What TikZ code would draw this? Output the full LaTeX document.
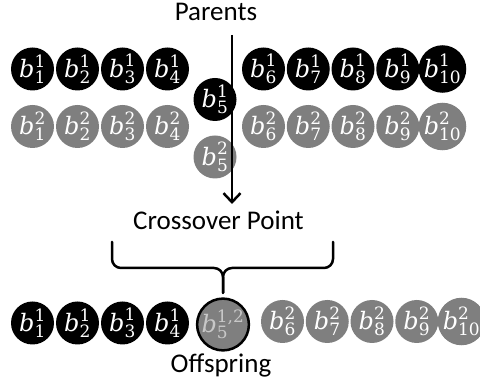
\documentclass[tikz,border=0pt]{standalone}
\usepackage{fontspec}
\setmainfont{Carlito}
\newfontfamily\labfont{DejaVu Serif}
\usetikzlibrary{arrows.meta}
\definecolor{genegray}{RGB}{127,127,127}
\definecolor{mixtext}{RGB}{200,200,200}
% gene label b_i^j
\newcommand{\genebase}{\hbox{\labfont\fontsize{24}{24}\selectfont\itshape b}}
\newcommand{\geneidx}[1]{\hbox{\labfont\fontsize{17}{17}\selectfont #1}}
\newcommand{\genelabel}[2]{$\genebase_{\geneidx{#1}}^{\geneidx{#2}}$}
\begin{document}
\begin{tikzpicture}[x=1pt,y=-1pt,
  gene/.style={circle,minimum size=43pt,inner sep=0pt,text=white,
    font=\fontsize{24.88}{28}\selectfont},
  p1/.style={gene,fill=black},
  p2/.style={gene,fill=genegray},
  child/.style={gene,minimum size=48pt,fill=genegray,draw=black,
    line width=2.5pt,text=mixtext},
  caption/.style={font=\fontsize{27}{32}\selectfont,anchor=base},
  flow/.style={line width=2.5pt,-{Straight Barb[length=9pt,width=17pt]}},
  brace/.style={line width=2.5pt,rounded corners=9pt,line cap=round}]
\useasboundingbox (0,0) rectangle (480,387);

% captions
\node[caption] (parents) at (216,21) {Parents};
\node[caption] (cross) at (218.5,230) {Crossover Point};
\node[caption] (offspring) at (221,373) {Offspring};

% parent 1 (top row) and parent 2 (second row)
\foreach \i/\x in {1/32.5,2/77.5,3/122.5,4/167.5} {
  \node[p1] (a\i) at (\x,69) {\genelabel{\i}{1}};
  \node[p2] (c\i) at (\x,126.5) {\genelabel{\i}{2}};
}
\node[p1] (a5) at (215,99.5) {\genelabel{5}{1}};
\node[p2] (c5) at (215,157) {\genelabel{5}{2}};
\foreach \i in {6,...,10} {
  \pgfmathsetmacro{\x}{263.5+(\i-6)*44.75}
  \node[p1] (a\i) at (\x,69) {\genelabel{\i}{1}};
  \node[p2] (c\i) at (\x,126.5) {\genelabel{\i}{2}};
}

% crossover arrow
\coordinate (arrowtop) at (232,35);
\coordinate (arrowtip) at (232,204);
\draw[flow] (arrowtop) -- (arrowtip);

% brace
\coordinate (bl) at (112,242);
\coordinate (br) at (333,242);
\coordinate (bm) at (223,268);
\coordinate (btip) at (223,293);
\draw[brace] (bl) |- (bm) -- (btip);
\draw[brace] (br) |- (bm) -- (btip);

% offspring row
\foreach \i/\x in {1/32.5,2/77.5,3/122.5,4/167.5} {
  \node[p1] (o\i) at (\x,323) {\genelabel{\i}{1}};
}
\node[child] (o5) at (223,324.5) {\genelabel{5}{1,2}};
\foreach \i in {6,...,10} {
  \pgfmathsetmacro{\x}{282.5+(\i-6)*44.75}
  \node[p2] (o\i) at (\x,321.5) {\genelabel{\i}{2}};
}
\end{tikzpicture}
\end{document}
